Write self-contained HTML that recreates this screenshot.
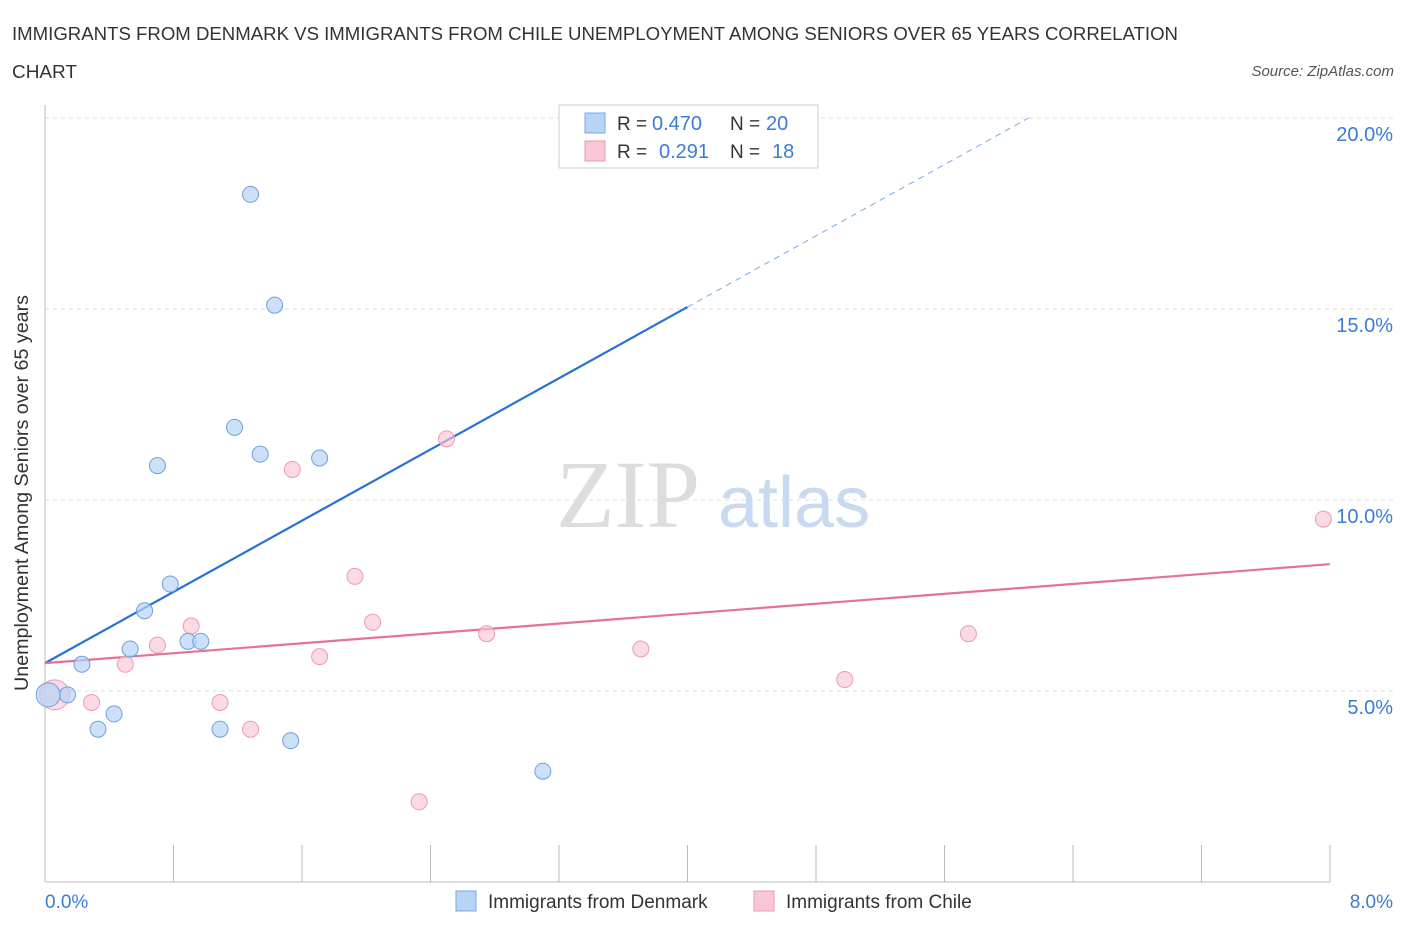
<!DOCTYPE html>
<html><head><meta charset="utf-8"><style>
body{margin:0;background:#fff;font-family:"Liberation Sans",sans-serif;}
</style></head><body>
<svg width="1406" height="930" xmlns="http://www.w3.org/2000/svg">
<text x="12" y="40" font-size="18" fill="#333" textLength="1166" lengthAdjust="spacingAndGlyphs">IMMIGRANTS FROM DENMARK VS IMMIGRANTS FROM CHILE UNEMPLOYMENT AMONG SENIORS OVER 65 YEARS CORRELATION</text>
<text x="12" y="78" font-size="18" fill="#333" textLength="65" lengthAdjust="spacingAndGlyphs">CHART</text>
<text x="1394" y="76" font-size="15" fill="#555" font-style="italic" text-anchor="end">Source: ZipAtlas.com</text>
<g id="grid"></g>
<text x="556" y="527" font-size="96" fill="#ddd" font-family="Liberation Serif,serif">ZIP</text>
<text x="718" y="527" font-size="72" fill="#c9d9ef">atlas</text>
<g id="lines"></g>
<g id="pts"></g>
<text x="28" y="493" font-size="19" fill="#333" text-anchor="middle" textLength="396" lengthAdjust="spacingAndGlyphs" transform="rotate(-90 28 493)">Unemployment Among Seniors over 65 years</text>
<text x="45" y="908" font-size="19" fill="#3b7bd8">0.0%</text>
<text x="1393" y="908" font-size="19" fill="#3b7bd8" text-anchor="end">8.0%</text>
<g>
<rect x="559" y="105" width="259" height="63" fill="#fff" stroke="#ccc"/>
<rect x="585" y="113" width="20" height="20" fill="#b7d3f5" stroke="#7aa8e6"/>
<rect x="585" y="141" width="20" height="20" fill="#f8c6d4" stroke="#ec9ab3"/>
<text x="617" y="130" font-size="19" fill="#333">R =</text>
<text x="652" y="130" font-size="20" fill="#3b7bd8">0.470</text>
<text x="730" y="130" font-size="19" fill="#333">N =</text>
<text x="766" y="130" font-size="20" fill="#3b7bd8">20</text>
<text x="617" y="158" font-size="19" fill="#333">R =</text>
<text x="659" y="158" font-size="20" fill="#3b7bd8">0.291</text>
<text x="730" y="158" font-size="19" fill="#333">N =</text>
<text x="772" y="158" font-size="20" fill="#3b7bd8">18</text>
</g>
<g>
<rect x="456" y="891" width="20" height="20" fill="#b7d3f5" stroke="#7aa8e6"/>
<text x="488" y="908" font-size="19" fill="#333">Immigrants from Denmark</text>
<rect x="754" y="891" width="20" height="20" fill="#f8c6d4" stroke="#ec9ab3"/>
<text x="786" y="908" font-size="19" fill="#333">Immigrants from Chile</text>
</g>
</svg>
<script>
const yTicks=[5,10,15,20];
const yTickLabels=["5.0%","10.0%","15.0%","20.0%"];
const denmarkX=[1.28,1.43,1.18,1.34,1.71,0.70,0.78,0.62,0.53,0.89,0.97,0.23,0.14,0.02,0.43,0.33,1.09,1.53,3.10];
const denmarkY=[18.0,15.1,11.9,11.2,11.1,10.9,7.8,7.1,6.1,6.3,6.3,5.7,4.9,4.9,4.4,4.0,4.0,3.7,2.9];
const chileX=[0.06,0.29,0.50,0.70,0.91,1.09,1.28,1.54,1.71,1.93,2.04,2.33,2.50,2.75,3.71,4.98,5.75,7.96];
const chileY=[4.9,4.7,5.7,6.2,6.7,4.7,4.0,10.8,5.9,8.0,6.8,2.1,11.6,6.5,6.1,5.3,6.5,9.5];
const denmarkFit=[5.73,15.05];
const chileFit=[5.73,8.32];
const NS="http://www.w3.org/2000/svg";
const sx=v=>45+v*160.6, sy=v=>882-v*38.2;
function mk(t,a,p){const e=document.createElementNS(NS,t);for(const k in a)e.setAttribute(k,a[k]);p.appendChild(e);return e;}
const g=document.getElementById('grid');
mk('line',{x1:45,y1:105,x2:45,y2:882,stroke:'#bbb'},g);
mk('line',{x1:45,y1:882,x2:1330,y2:882,stroke:'#bbb'},g);
for(let i=1;i<=10;i++){mk('line',{x1:45+i*128.5,y1:845,x2:45+i*128.5,y2:882,stroke:'#bbb'},g);}
yTicks.forEach((v,i)=>{
const l=mk('line',{x1:45,y1:sy(v),x2:1395,y2:sy(v),stroke:'#ddd','stroke-dasharray':'4,4'},g);


const t=mk('text',{x:1393,y:sy(v)+23,'font-size':20,fill:'#3b7bd8','text-anchor':'end'},g);
t.textContent=yTickLabels[i];


});
const L=document.getElementById('lines');
const b1=mk('line',{x1:sx(0),y1:sy(denmarkFit[0]),x2:sx(4),y2:sy(denmarkFit[1]),stroke:'#2a6fd6','stroke-width':2.2},L);


const slope=(denmarkFit[1]-denmarkFit[0])/4, xe=(20-denmarkFit[0])/slope;
const b2=mk('line',{x1:sx(4),y1:sy(denmarkFit[1]),x2:sx(xe),y2:sy(20),stroke:'#7aa8e6','stroke-width':1,'stroke-dasharray':'6,5'},L);


const p1=mk('line',{x1:sx(0),y1:sy(chileFit[0]),x2:sx(8),y2:sy(chileFit[1]),stroke:'#e5709a','stroke-width':2.2},L);


const P=document.getElementById('pts');
chileX.forEach((x,i)=>{const c=mk('circle',{cx:sx(x),cy:sy(chileY[i]),r:i==0?15:8,fill:'#f8c6d4','fill-opacity':0.65,stroke:'#ec9ab3'},P);

});
denmarkX.forEach((x,i)=>{const c=mk('circle',{cx:sx(x),cy:sy(denmarkY[i]),r:i==13?12:8,fill:'#b7d3f5','fill-opacity':0.7,stroke:'#6f9fe0'},P);

});
</script>
</body></html>
